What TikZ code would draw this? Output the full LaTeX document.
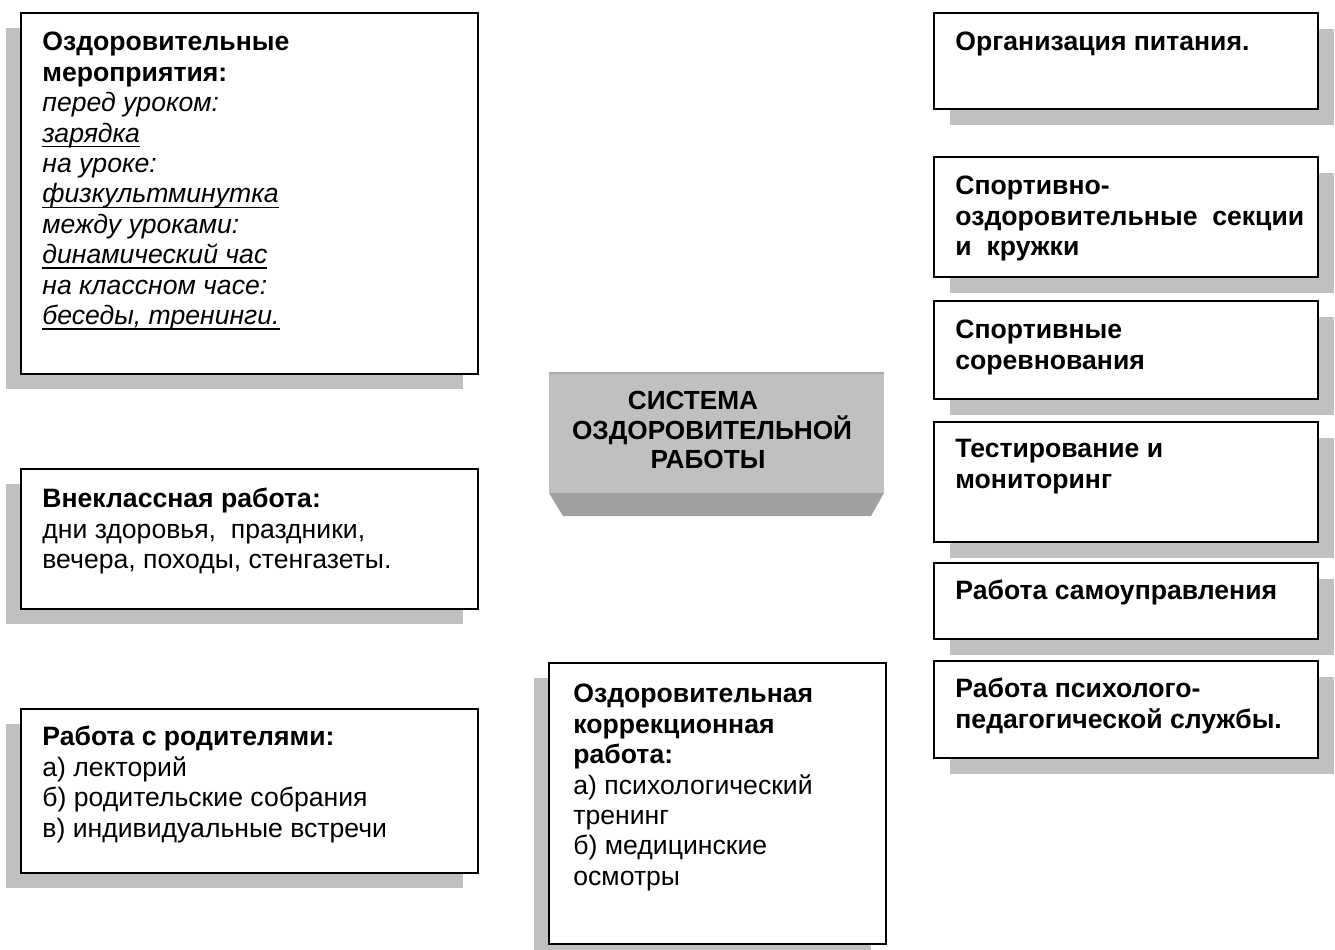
\documentclass[tikz,border=0pt]{standalone}
\usepackage{fontspec}
\setmainfont{Liberation Sans}
\usetikzlibrary{positioning,shadows}
\definecolor{shd}{HTML}{C0C0C0}
\definecolor{face}{HTML}{C0C0C0}
\definecolor{bevel}{HTML}{A0A0A0}
\definecolor{rim}{HTML}{A8A8A8}
\newcommand\ulx[1]{\leavevmode\setbox0\hbox{#1}\rlap{\rule[-2.6pt]{\wd0}{0.8pt}}\box0}

\begin{document}
\begin{tikzpicture}[
  x=0.5pt, y=-0.5pt,
  box/.style={draw=black, line width=1pt, fill=white, anchor=north west, inner sep=0pt},
  shl/.style={general shadow={fill=shd, shadow xshift=-7.5pt, shadow yshift=-7.5pt}},
  shr/.style={general shadow={fill=shd, shadow xshift=8pt, shadow yshift=-8pt}},
  txt/.style={inner sep=0pt, align=left, font=\fontsize{13.3}{15.2}\selectfont},
  btxt/.style={txt, font=\fontsize{13.3}{15.2}\selectfont\bfseries},
]
\useasboundingbox (0,0) rectangle (1335,949);

% left column
\node[box, shl, minimum width=228.5pt, minimum height=180.5pt] (meropr) at (20,12) {};
\node[box, shl, minimum width=228.5pt, minimum height=70pt] (vneklass) at (20,468) {};
\node[box, shl, minimum width=228.5pt, minimum height=82pt] (roditeli) at (20,708) {};

\node[txt, below right=10pt and 11pt of meropr.north west] (meropr-t)
  {\textbf{Оздоровительные}\\ \textbf{мероприятия:}\\
   \textit{перед уроком:}\\ \textit{\ulx{зарядка}}\\
   \textit{на уроке:}\\ \textit{\ulx{физкультминутка}}\\
   \textit{между уроками:}\\ \textit{\ulx{динамический час}}\\
   \textit{на классном часе:}\\ \textit{\ulx{беседы, тренинги.}}};
\node[txt, below right=10pt and 11pt of vneklass.north west] (vneklass-t)
  {\textbf{Внеклассная работа:}\\ дни здоровья,\ \ праздники,\\ вечера, походы, стенгазеты.};
\node[txt, below right=9pt and 11pt of roditeli.north west] (roditeli-t)
  {\textbf{Работа с родителями:}\\ а) лекторий\\ б) родительские собрания\\ в) индивидуальные встречи};

% centre
\fill[face] (549,372) rectangle (884,493);
\draw[rim, line width=1pt] (549,372.5) -- (884,372.5);
\fill[bevel] (549,493) -- (884,493) -- (871,516) -- (563,516) -- cycle;
\node[inner sep=0pt, align=center, font=\fontsize{13.1}{14.8}\selectfont\bfseries] (sistema) at (712,430)
  {СИСТЕМА\hspace*{19pt}\\ ОЗДОРОВИТЕЛЬНОЙ\\ РАБОТЫ\hspace*{4pt}};

\node[box, shl, minimum width=168.5pt, minimum height=140.5pt] (korrekc) at (548,662) {};
\node[txt, below right=11pt and 12.5pt of korrekc.north west] (korrekc-t)
  {\textbf{Оздоровительная}\\ \textbf{коррекционная}\\ \textbf{работа:}\\
   а) психологический\\ тренинг\\ б) медицинские\\ осмотры};

% right column
\node[box, shr, minimum width=192pt, minimum height=48pt] (pitanie) at (933,12) {};
\node[box, shr, minimum width=192pt, minimum height=60pt] (sekcii) at (933,156) {};
\node[box, shr, minimum width=192pt, minimum height=49pt] (sorevn) at (933,300) {};
\node[box, shr, minimum width=192pt, minimum height=60pt] (testir) at (933,421) {};
\node[box, shr, minimum width=192pt, minimum height=38pt] (samoupr) at (933,562) {};
\node[box, shr, minimum width=192pt, minimum height=48.5pt] (psiholog) at (933,660) {};

\node[btxt, below right=10pt and 11pt of pitanie.north west] (pitanie-t)
  {Организация питания.};
\node[btxt, below right=10pt and 11pt of sekcii.north west] (sekcii-t)
  {Спортивно-\\ оздоровительные\ \ секции\\ и\ \ кружки};
\node[btxt, below right=10pt and 11pt of sorevn.north west] (sorevn-t)
  {Спортивные\\ соревнования};
\node[btxt, below right=9pt and 11pt of testir.north west] (testir-t)
  {Тестирование и\\ мониторинг};
\node[btxt, below right=9pt and 11pt of samoupr.north west] (samoupr-t)
  {Работа самоуправления};
\node[btxt, below right=9pt and 11pt of psiholog.north west] (psiholog-t)
  {Работа психолого-\\ педагогической службы.};
\end{tikzpicture}
\end{document}
